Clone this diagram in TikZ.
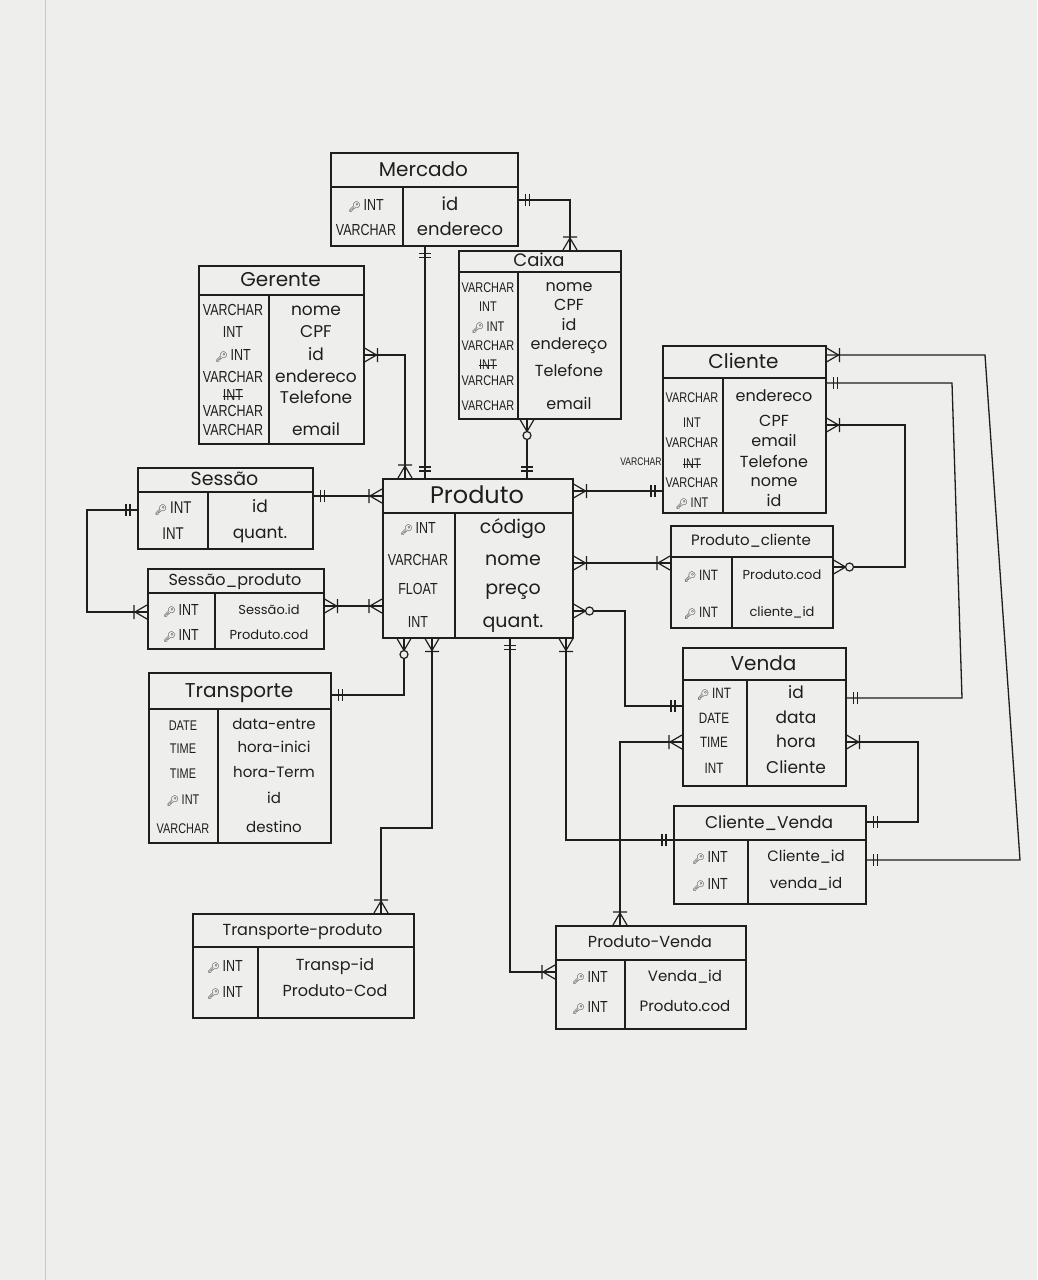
\documentclass[tikz,border=0pt]{standalone}
\usepackage{fontspec}
\usetikzlibrary{decorations.markings}
\newfontfamily\tyfont[FakeStretch=0.78]{Liberation Sans}
\newfontfamily\atfont{Poppins}
\newfontfamily\emofont{Noto Emoji}
\definecolor{paper}{HTML}{EEEEEC}
\definecolor{ink}{HTML}{1E1E1E}
\def\tys{15}\def\ats{17}\def\tts{20}
\newcommand{\ky}{{\emofont\fontsize{10}{10}\selectfont 🔑}\,}
\newcommand{\strk}[1]{\setbox0\hbox{#1}\rlap{\rule[0.35\ht0]{\wd0}{0.8pt}}\box0}
\tikzset{
 tbl/.style={draw=ink, line width=1.5pt, inner sep=0pt, anchor=north west},
 ty/.style={font=\tyfont\fontsize{\tys}{\tys}\selectfont, text=ink, inner sep=0pt, anchor=base, yshift={-0.36*\tys*1pt}},
 atr/.style={font=\atfont\fontsize{\ats}{\ats}\selectfont, text=ink, inner sep=0pt, anchor=base, yshift={-0.31*\ats*1pt}},
 ttl/.style={font=\atfont\fontsize{\tts}{\tts}\selectfont, text=ink, inner sep=0pt, anchor=base, yshift={-0.33*\tts*1pt}},
 con/.style={draw=ink, line width=1.3pt},
 sOO/.style={postaction={decorate,decoration={markings,mark=at position 0 with {\draw[ink,line width=1.2pt] (7pt,-6pt)--(7pt,6pt) (11pt,-6pt)--(11pt,6pt);}}}},
 eOO/.style={postaction={decorate,decoration={markings,mark=at position 1 with {\draw[ink,line width=1.2pt] (-7pt,-6pt)--(-7pt,6pt) (-11pt,-6pt)--(-11pt,6pt);}}}},
 sMB/.style={postaction={decorate,decoration={markings,mark=at position 0 with {\draw[ink,line width=1.2pt] (0pt,-7pt)--(12pt,0pt)--(0pt,7pt) (13pt,-7pt)--(13pt,7pt);}}}},
 eMB/.style={postaction={decorate,decoration={markings,mark=at position 1 with {\draw[ink,line width=1.2pt] (0pt,-7pt)--(-12pt,0pt)--(0pt,7pt) (-13pt,-7pt)--(-13pt,7pt);}}}},
 sMO/.style={postaction={decorate,decoration={markings,mark=at position 0 with {\draw[ink,line width=1.2pt] (0pt,-7pt)--(12pt,0pt)--(0pt,7pt); \draw[ink,line width=1.2pt,fill=paper] (16pt,0pt) circle (4pt);}}}},
 eMO/.style={postaction={decorate,decoration={markings,mark=at position 1 with {\draw[ink,line width=1.2pt] (0pt,-7pt)--(-12pt,0pt)--(0pt,7pt); \draw[ink,line width=1.2pt,fill=paper] (-16pt,0pt) circle (4pt);}}}},
}
\newcommand{\ent}[8]{%
 \node[tbl, minimum width={(#4-#2)*1pt}, minimum height={(#5-#3)*1pt}] (#1) at (#2,#3) {};
 \draw[ink, line width=1.5pt] (#2,#6) -- (#4,#6) (#7,#6) -- (#7,#5);
 \node[ttl] (#1-ttl) at ({(#2+#4)/2},{(#3+#6)/2}) {#8};}
\newcommand{\rw}[6]{\node[ty] (#1-t) at (#2,#4) {#5}; \node[atr] (#1-a) at (#3,#4) {#6};}
\begin{document}
\begin{tikzpicture}[x=1pt,y=-1pt]
\fill[paper] (0,0) rectangle (1037,1280);
\useasboundingbox (0,0) rectangle (1037,1280);
\draw[black!22, line width=1pt] (45,0) -- (45,1280);

% Mercado
\def\tts{20}\def\tys{16}\def\ats{18}
\ent{mer}{330}{152}{517}{245}{187}{403}{Mercado}
\rw{mer-1}{366}{450}{205}{\ky INT}{id}
\rw{mer-2}{366}{460}{230}{VARCHAR}{endereco}

% Caixa
\def\tts{18}\def\tys{14}\def\ats{16}
\ent{cai}{458}{250}{620}{418}{272}{518}{Caixa}
\rw{cai-1}{488}{569}{287}{VARCHAR}{nome}
\rw{cai-2}{488}{569}{306}{INT}{CPF}
\rw{cai-3}{488}{569}{326}{\ky INT}{id}
\rw{cai-4}{488}{569}{345}{VARCHAR}{endereço}
\node[ty] (cai-5-x) at (488,364) {\strk{INT}};
\node[ty] (cai-5-t) at (488,380) {VARCHAR};
\node[atr] (cai-5-a) at (569,372) {Telefone};
\rw{cai-6}{488}{569}{405}{VARCHAR}{email}

% Gerente
\def\tts{20}\def\tys{16}\def\ats{17}
\ent{ger}{198}{265}{363}{443}{295}{269}{Gerente}
\rw{ger-1}{233}{316}{310}{VARCHAR}{nome}
\rw{ger-2}{233}{316}{332}{INT}{CPF}
\rw{ger-3}{233}{316}{355}{\ky INT}{id}
\rw{ger-4}{233}{316}{377}{VARCHAR}{endereco}
\node[ty] (ger-5-x) at (233,395) {\strk{INT}};
\node[ty] (ger-5-t) at (233,411) {VARCHAR};
\node[atr] (ger-5-a) at (316,398) {Telefone};
\rw{ger-6}{233}{316}{430}{VARCHAR}{email}

% Sessao
\def\tts{19}\def\tys{17}\def\ats{17}
\ent{ses}{137}{467}{312}{548}{492}{208}{Sessão}
\rw{ses-1}{173}{260}{507}{\ky INT}{id}
\rw{ses-2}{173}{260}{533}{INT}{quant.}

% Sessao_produto
\def\tts{16}\def\tys{16}\def\ats{13}
\ent{sp}{147}{568}{323}{648}{593}{215}{Sessão\_produto}
\rw{sp-1}{181}{269}{610}{\ky INT}{Sessão.id}
\rw{sp-2}{181}{269}{635}{\ky INT}{Produto.cod}

% Produto
\def\tts{24}\def\tys{16}\def\ats{19}
\ent{pro}{382}{478}{572}{637}{513}{455}{Produto}
\rw{pro-1}{418}{513}{528}{\ky INT}{código}
\rw{pro-2}{418}{513}{560}{VARCHAR}{nome}
\rw{pro-3}{418}{513}{589}{FLOAT}{preço}
\rw{pro-4}{418}{513}{622}{INT}{quant.}

% Cliente
\def\tts{20}\def\tys{14}\def\ats{16}
\ent{cli}{662}{345}{825}{512}{378}{723}{Cliente}
\rw{cli-1}{692}{774}{397}{VARCHAR}{endereco}
\rw{cli-2}{692}{774}{422}{INT}{CPF}
\rw{cli-3}{692}{774}{442}{VARCHAR}{email}
\rw{cli-4}{692}{774}{463}{\strk{INT}}{Telefone}
\rw{cli-5}{692}{774}{482}{VARCHAR}{nome}
\rw{cli-6}{692}{774}{502}{\ky INT}{id}
\node[ty, font=\tyfont\fontsize{11}{11}\selectfont] (cli-4-x) at (641,460) {VARCHAR};

% Produto_cliente
\def\tts{15}\def\tys{15}\def\ats{13}
\ent{pc}{670}{525}{832}{627}{557}{732}{Produto\_cliente}
\rw{pc-1}{701}{782}{575}{\ky INT}{Produto.cod}
\rw{pc-2}{701}{782}{612}{\ky INT}{cliente\_id}

% Venda
\def\tts{20}\def\tys{15}\def\ats{17}
\ent{ven}{682}{647}{845}{785}{680}{747}{Venda}
\rw{ven-1}{714}{796}{693}{\ky INT}{id}
\rw{ven-2}{714}{796}{718}{DATE}{data}
\rw{ven-3}{714}{796}{742}{TIME}{hora}
\rw{ven-4}{714}{796}{768}{INT}{Cliente}

% Cliente_Venda
\def\tts{17}\def\tys{16}\def\ats{15}
\ent{cv}{673}{805}{865}{903}{840}{748}{Cliente\_Venda}
\rw{cv-1}{710}{806}{857}{\ky INT}{Cliente\_id}
\rw{cv-2}{710}{806}{884}{\ky INT}{venda\_id}

% Produto-Venda
\def\tts{16}\def\tys{16}\def\ats{15}
\ent{pv}{555}{925}{745}{1028}{960}{625}{Produto-Venda}
\rw{pv-1}{590}{685}{977}{\ky INT}{Venda\_id}
\rw{pv-2}{590}{685}{1007}{\ky INT}{Produto.cod}

% Transporte
\def\tts{20}\def\tys{14}\def\ats{15}
\ent{tra}{148}{672}{330}{842}{709}{218}{Transporte}
\rw{tra-1}{183}{274}{725}{DATE}{data-entre}
\rw{tra-2}{183}{274}{748}{TIME}{hora-inici}
\rw{tra-3}{183}{274}{773}{TIME}{hora-Term}
\rw{tra-4}{183}{274}{799}{\ky INT}{id}
\rw{tra-5}{183}{274}{828}{VARCHAR}{destino}

% Transporte-produto
\def\tts{16}\def\tys{16}\def\ats{16}
\ent{tp}{192}{913}{413}{1017}{947}{258}{Transporte-produto}
\rw{tp-1}{225}{335}{966}{\ky INT}{Transp-id}
\rw{tp-2}{225}{335}{992}{\ky INT}{Produto-Cod}

% connectors
\coordinate (k1) at (570,200);
\draw[con,sOO,eMB] (mer.east |- k1) -- (k1) -- (cai.north -| k1);
\coordinate (k2) at (425,300);
\draw[con,sOO,eOO] (mer.south -| k2) -- (pro.north -| k2);
\coordinate (k3) at (405,355);
\draw[con,sMB,eMB] (ger.east |- k3) -- (k3) -- (pro.north -| k3);
\coordinate (k4) at (527,450);
\draw[con,sMO,eOO] (cai.south -| k4) -- (pro.north -| k4);
\coordinate (k5) at (340,496);
\draw[con,sOO,eMB] (ses.east |- k5) -- (pro.west |- k5);
\coordinate (k6a) at (87,510);
\coordinate (k6b) at (87,612);
\draw[con,sOO,eMB] (ses.west |- k6a) -- (k6a) -- (k6b) -- (sp.west |- k6b);
\coordinate (k7) at (350,606);
\draw[con,sMB,eMB] (sp.east |- k7) -- (pro.west |- k7);
\coordinate (k8) at (620,491);
\draw[con,sMB,eOO] (pro.east |- k8) -- (cli.west |- k8);
\coordinate (k9) at (620,563);
\draw[con,sMB,eMB] (pro.east |- k9) -- (pc.west |- k9);
\coordinate (k10a) at (905,567);
\coordinate (k10b) at (905,425);
\draw[con,sMO,eMB] (pc.east |- k10a) -- (k10a) -- (k10b) -- (cli.east |- k10b);
\coordinate (k11a) at (985,355);
\coordinate (k11b) at (1020,860);
\draw[con,sMB,eOO] (cli.east |- k11a) -- (k11a) -- (k11b) -- (cv.east |- k11b);
\coordinate (k12a) at (952,383);
\coordinate (k12b) at (962,698);
\draw[con,sOO,eOO] (cli.east |- k12a) -- (k12a) -- (k12b) -- (ven.east |- k12b);
\coordinate (k13a) at (918,742);
\coordinate (k13b) at (918,822);
\draw[con,sMB,eOO] (ven.east |- k13a) -- (k13a) -- (k13b) -- (cv.east |- k13b);
\coordinate (k14a) at (625,611);
\coordinate (k14b) at (625,706);
\draw[con,sMO,eOO] (pro.east |- k14a) -- (k14a) -- (k14b) -- (ven.west |- k14b);
\coordinate (k15) at (620,742);
\draw[con,sMB,eMB] (ven.west |- k15) -- (k15) -- (pv.north -| k15);
\coordinate (k16) at (566,840);
\draw[con,sMB,eOO] (pro.south -| k16) -- (k16) -- (cv.west |- k16);
\coordinate (k17) at (510,972);
\draw[con,sOO,eMB] (pro.south -| k17) -- (k17) -- (pv.west |- k17);
\coordinate (k18) at (404,695);
\draw[con,sMO,eOO] (pro.south -| k18) -- (k18) -- (tra.east |- k18);
\coordinate (k19a) at (432,828);
\coordinate (k19b) at (381,828);
\draw[con,sMB,eMB] (pro.south -| k19a) -- (k19a) -- (k19b) -- (tp.north -| k19b);
\end{tikzpicture}
\end{document}
